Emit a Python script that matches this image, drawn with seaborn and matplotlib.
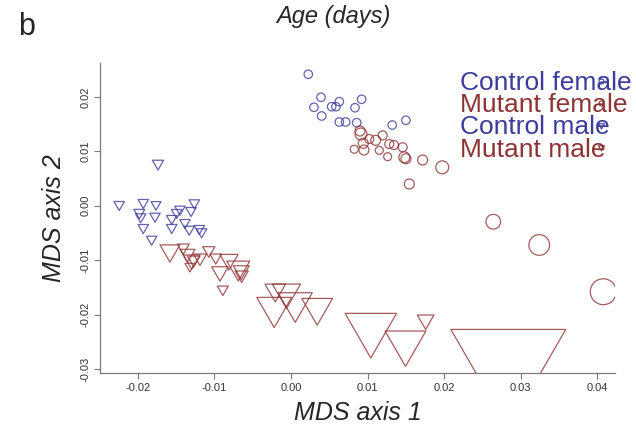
#%% packages
import matplotlib
matplotlib.use("Agg")
import matplotlib.pyplot as plt
from matplotlib.path import Path
from matplotlib.lines import Line2D
import numpy as np
import seaborn as sns

#%% data
# control female - blue circles
cf_x = [0.00226, 0.00392, 0.00300, 0.00401, 0.00531, 0.00587, 0.00631, 0.00836,
        0.00923, 0.00631, 0.00714, 0.00858, 0.01322, 0.01501]
cf_y = [0.02415, 0.01993, 0.01809, 0.01649, 0.01820, 0.01820, 0.01912, 0.01801,
        0.01956, 0.01539, 0.01539, 0.01526, 0.01483, 0.01570]
cf_cex = [1.0] * 14

# mutant female - red circles
mf_x = [0.00901, 0.00914, 0.01022, 0.01106, 0.01197, 0.00944, 0.00826, 0.00953,
        0.01153, 0.01283, 0.01345, 0.01458, 0.01262, 0.01479, 0.01501, 0.01719,
        0.01975, 0.01544, 0.02641, 0.03241, 0.04077]
mf_y = [0.01373, 0.01318, 0.01226, 0.01202, 0.01294, 0.01147, 0.01037, 0.01024,
        0.01018, 0.01134, 0.01116, 0.01074, 0.00901, 0.00890, 0.00864, 0.00840,
        0.00706, 0.00399, -0.00294, -0.00722, -0.01581]
mf_cex = [1.18, 1.41, 1.06, 1.18, 1.06, 1.18, 0.94, 1.18, 0.94, 1.06, 1.06,
          1.06, 0.94, 1.29, 1.18, 1.18, 1.53, 1.18, 1.73, 2.44, 3.06]

# control male - blue triangles
cm_x = [-0.01736, -0.02242, -0.01928, -0.01762, -0.01980, -0.01962, -0.01775,
        -0.01557, -0.01492, -0.01449, -0.01262, -0.01305, -0.01928, -0.01557,
        -0.01384, -0.01328, -0.01197, -0.01166, -0.01819]
cm_y = [0.00776, 0.00022, 0.00059, 0.00022, -0.00125, -0.00204, -0.00193,
        -0.00235, -0.00125, -0.00064, 0.00053, -0.00088, -0.00401, -0.00401,
        -0.00309, -0.00432, -0.00419, -0.00480, -0.00616]
cm_cex = [1.08, 1.0, 1.0, 0.95, 1.05, 1.0, 1.0, 1.0, 1.0, 1.0, 1.0, 1.0, 1.0,
          1.0, 1.0, 1.0, 1.0, 1.0, 1.0]

# mutant male - red triangles
mm_x = [-0.01580, -0.01406, -0.01351, -0.01296, -0.01270, -0.01319, -0.01073,
        -0.01188, -0.00982, -0.00809, -0.00927, -0.00688, -0.00649, -0.00644,
        -0.00890, -0.00205, -0.00059, -0.00219, 0.00055, 0.00342, 0.01042,
        0.01495, 0.01758, 0.02837]
mm_y = [-0.00826, -0.00768, -0.00881, -0.00994, -0.00993, -0.01112, -0.00818,
        -0.00958, -0.00950, -0.00991, -0.01210, -0.01140, -0.01188, -0.01270,
        -0.01535, -0.01550, -0.01590, -0.01870, -0.01781, -0.01868, -0.02252,
        -0.02520, -0.02097, -0.02884]
mm_cex = [1.90, 1.14, 1.43, 1.59, 1.21, 0.95, 1.17, 1.27, 1.11, 1.74, 1.59,
          2.19, 1.52, 1.27, 1.05, 1.97, 2.70, 3.33, 3.27, 2.95, 4.92, 3.90,
          1.59, 10.98]

groups = ["Control female", "Mutant female", "Control male", "Mutant male"]
x_ticks = [-0.02, -0.01, 0.00, 0.01, 0.02, 0.03, 0.04]
y_ticks = [-0.03, -0.02, -0.01, 0.00, 0.01, 0.02]

#%% style
BLUE = "#3c3c9c"
RED = "#8e3434"
AXC = "#7a7a7a"

sns.set_theme(style="ticks")
plt.rcParams["font.family"] = ["Liberation Sans", "DejaVu Sans"]
plt.rcParams["axes.unicode_minus"] = False

# R style pch=6: equilateral triangle pointing down, centred on centroid
tri = Path([(0, -1.1547), (1, 0.5774), (-1, 0.5774), (0, -1.1547)],
           [Path.MOVETO, Path.LINETO, Path.LINETO, Path.CLOSEPOLY])

circ_pt = 6.1   # base circle diameter (points)
tri_pt = 8.7    # base triangle size (points)

#%% plot
fig = plt.figure(figsize=(6.36, 4.28), dpi=100)
ax = fig.add_axes([100 / 636, 55 / 428, 515 / 636, 310 / 428])

series = [
    (cf_x, cf_y, cf_cex, "o", circ_pt, BLUE),
    (mf_x, mf_y, mf_cex, "o", circ_pt, RED),
    (cm_x, cm_y, cm_cex, tri, tri_pt, BLUE),
    (mm_x, mm_y, mm_cex, tri, tri_pt, RED),
]
for xs, ys, cex, mk, base, col in series:
    sns.scatterplot(x=xs, y=ys, marker=mk, s=(np.array(cex) * base) ** 2,
                    facecolors="none", edgecolor=col, color=col,
                    linewidth=0.9, alpha=0.8, ax=ax)

ax.set_xlim(-0.02493, 0.0423)
ax.set_ylim(-0.03075, 0.02623)

ax.set_xticks(x_ticks)
ax.set_xticklabels([f"{v:.2f}" for v in x_ticks])
ax.set_yticks(y_ticks)
ax.set_yticklabels([f"{v:.2f}" for v in y_ticks], rotation=90, va="center")
ax.tick_params(length=4, width=0.8, color=AXC, labelsize=8, labelcolor="#333333", pad=3)

sns.despine(ax=ax)
for s in ["left", "bottom"]:
    ax.spines[s].set_color(AXC)
    ax.spines[s].set_linewidth(0.9)

ax.set_xlabel("MDS axis 1", fontsize=18, style="italic", labelpad=6)
ax.set_ylabel("MDS axis 2", fontsize=18, style="italic", labelpad=10)

#%% legend: coloured text, symbols overlapping the end of the text
cols = [BLUE, RED, BLUE, RED]
txt_handles = [Line2D([], [], linestyle="none") for _ in groups]
leg1 = ax.legend(txt_handles, groups, loc="upper left", bbox_to_anchor=(0.699, 0.974),
                 frameon=False, fontsize=19, labelcolor=cols, handlelength=0,
                 handletextpad=0, labelspacing=-0.07, borderpad=0, borderaxespad=0)
ax.add_artist(leg1)

mk_handles = [
    Line2D([], [], linestyle="none", marker="o", markersize=3.6, mfc="none", mec=BLUE, mew=0.8),
    Line2D([], [], linestyle="none", marker="o", markersize=3.6, mfc="none", mec=RED, mew=0.8),
    Line2D([], [], linestyle="none", marker=tri, markersize=5, mfc="none", mec=BLUE, mew=0.8),
    Line2D([], [], linestyle="none", marker=tri, markersize=5, mfc="none", mec=RED, mew=0.8),
]
ax.legend(mk_handles, [" "] * 4, loc="upper left", bbox_to_anchor=(0.96, 0.974),
          frameon=False, fontsize=19, handlelength=0.5, handletextpad=0,
          labelspacing=-0.07, borderpad=0, borderaxespad=0)

#%% panel letter and header
fig.text(18 / 636, 1 - 27 / 428, "b", fontsize=22, va="center", ha="left")
fig.text(333 / 636, 1 - 16 / 428, "Age (days)", fontsize=17, style="italic",
         ha="center", va="center")

fig.savefig("out.png", dpi=100)
